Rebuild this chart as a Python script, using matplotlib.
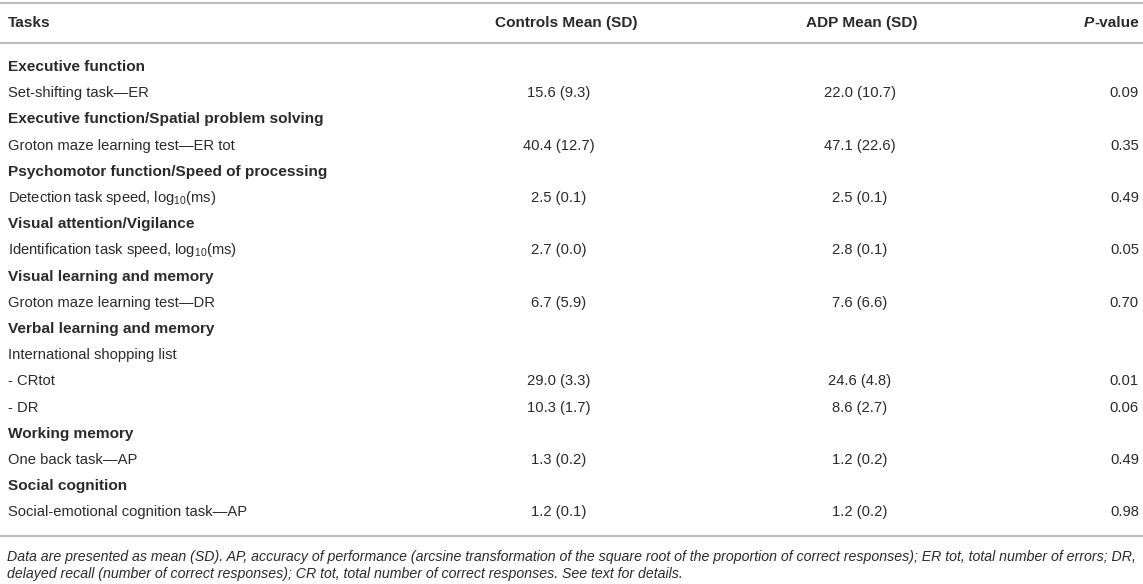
import matplotlib
matplotlib.use("Agg")
import matplotlib.pyplot as plt

plt.rcParams['font.family'] = ['Liberation Sans', 'DejaVu Sans']
plt.rcParams['mathtext.fontset'] = 'custom'
plt.rcParams['mathtext.rm'] = 'Liberation Sans'
plt.rcParams['mathtext.it'] = 'Liberation Sans:italic'
plt.rcParams['mathtext.bf'] = 'Liberation Sans:bold'

# ---- data ----
col_headers = ["Tasks", "Controls Mean (SD)", "ADP Mean (SD)", "-value"]
row_labels = [
    "Executive function",
    "Set-shifting task\u2014ER",
    "Executive function/Spatial problem solving",
    "Groton maze learning test\u2014ER tot",
    "Psychomotor function/Speed of processing",
    "Detection task speed, log$_{\\mathregular{10}}$(ms)",
    "Visual attention/Vigilance",
    "Identification task speed, log$_{\\mathregular{10}}$(ms)",
    "Visual learning and memory",
    "Groton maze learning test\u2014DR",
    "Verbal learning and memory",
    "International shopping list",
    "- CRtot",
    "- DR",
    "Working memory",
    "One back task\u2014AP",
    "Social cognition",
    "Social-emotional cognition task\u2014AP",
]
is_section = [True, False, True, False, True, False, True, False, True, False,
              True, False, False, False, True, False, True, False]
controls_mean = [None, 15.6, None, 40.4, None, 2.5, None, 2.7, None, 6.7,
                 None, None, 29.0, 10.3, None, 1.3, None, 1.2]
controls_sd = [None, 9.3, None, 12.7, None, 0.1, None, 0.0, None, 5.9,
               None, None, 3.3, 1.7, None, 0.2, None, 0.1]
adp_mean = [None, 22.0, None, 47.1, None, 2.5, None, 2.8, None, 7.6,
            None, None, 24.6, 8.6, None, 1.2, None, 1.2]
adp_sd = [None, 10.7, None, 22.6, None, 0.1, None, 0.1, None, 6.6,
          None, None, 4.8, 2.7, None, 0.2, None, 0.2]
p_values = [None, 0.09, None, 0.35, None, 0.49, None, 0.05, None, 0.70,
            None, None, 0.01, 0.06, None, 0.49, None, 0.98]
footnote = [
    "Data are presented as mean (SD). AP, accuracy of performance (arcsine transformation of the square root of the proportion of correct responses); ER tot, total number of errors; DR,",
    "delayed recall (number of correct responses); CR tot, total number of correct responses. See text for details.",
]

# ---- layout ----
W, H = 1143, 584
fig = plt.figure(figsize=(W / 100, H / 100), dpi=100)
ax = fig.add_axes([0, 0, 1, 1])
ax.set_xlim(0, W)
ax.set_ylim(H, 0)
ax.axis('off')

txt = '#2a2a2a'
line_c = '#bdbdbd'
fs = 10.6
fs_b = 11.1
x_task, x_p = 8, 1139
x_ctrl_h, x_ctrl = 566, 559
x_adp_h, x_adp = 862, 860

for y in (3, 43, 536):
    ax.axhline(y, color=line_c, lw=1.5)

y_head = 23
ax.text(x_task, y_head, col_headers[0], fontsize=fs_b, fontweight='bold', color=txt, ha='left', va='center')
ax.text(x_ctrl_h, y_head, col_headers[1], fontsize=fs_b, fontweight='bold', color=txt, ha='center', va='center')
ax.text(x_adp_h, y_head, col_headers[2], fontsize=fs_b, fontweight='bold', color=txt, ha='center', va='center')
tv = ax.text(x_p, y_head, col_headers[3], fontsize=fs_b, fontweight='bold', color=txt, ha='right', va='center')
fig.canvas.draw()
bb = tv.get_window_extent(renderer=fig.canvas.get_renderer())
x_left = ax.transData.inverted().transform((bb.x0, bb.y0))[0]
ax.text(x_left, y_head, "P", fontsize=fs_b, fontweight='bold', fontstyle='italic', color=txt, ha='right', va='center')

y0, dy = 67, 26.2
for i, lab in enumerate(row_labels):
    y = y0 + i * dy
    if is_section[i]:
        ax.text(x_task, y, lab, fontsize=fs_b, fontweight='bold', color=txt, ha='left', va='center')
    else:
        ax.text(x_task, y, lab, fontsize=fs, color=txt, ha='left', va='center')
    if controls_mean[i] is not None:
        ax.text(x_ctrl, y, f"{controls_mean[i]:.1f} ({controls_sd[i]:.1f})", fontsize=fs, color=txt, ha='center', va='center')
        ax.text(x_adp, y, f"{adp_mean[i]:.1f} ({adp_sd[i]:.1f})", fontsize=fs, color=txt, ha='center', va='center')
        ax.text(x_p, y, f"{p_values[i]:.2f}", fontsize=fs, color=txt, ha='right', va='center')

for j, line in enumerate(footnote):
    ax.text(x_task - 1, 557 + j * 17, line, fontsize=10.15, fontstyle='italic', color=txt, ha='left', va='center')

fig.savefig("out.png", dpi=100)
